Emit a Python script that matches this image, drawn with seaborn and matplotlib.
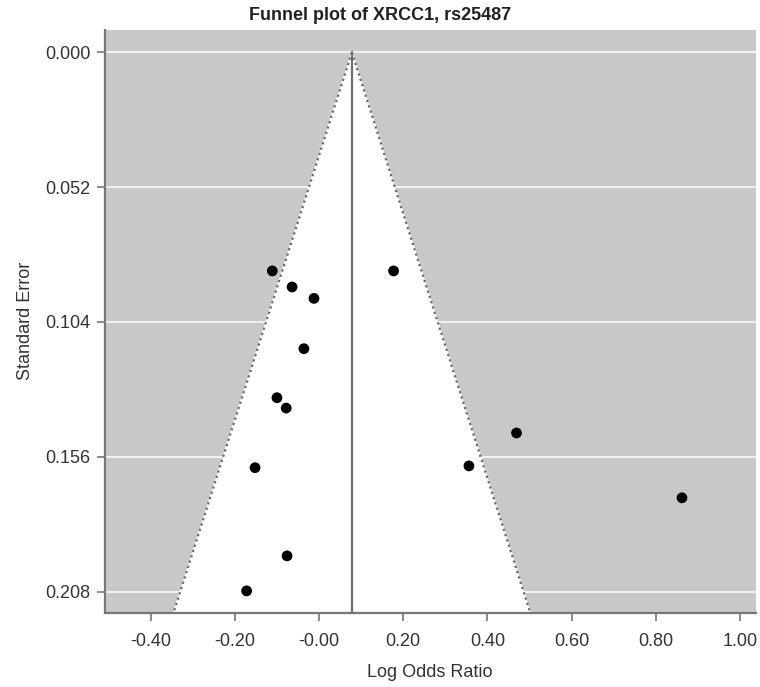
import numpy as np
import pandas as pd
import matplotlib
matplotlib.use("Agg")
import matplotlib.pyplot as plt
import seaborn as sns

# study estimates
log_or = [-0.111, -0.064, -0.012, -0.036, -0.100, -0.078, -0.152,
          0.177, 0.469, 0.356, 0.862, -0.076, -0.172]
std_err = [0.0843, 0.0905, 0.0949, 0.1143, 0.1332, 0.1372, 0.1602,
           0.0843, 0.1468, 0.1595, 0.1718, 0.1942, 0.2077]
pooled = 0.078
se_max = 0.2161

x_ticks = [-0.40, -0.20, 0.00, 0.20, 0.40, 0.60, 0.80, 1.00]
x_labels = ["-0.40", "-0.20", "-0.00", "0.20", "0.40", "0.60", "0.80", "1.00"]
y_ticks = [0.000, 0.052, 0.104, 0.156, 0.208]
y_labels = ["0.000", "0.052", "0.104", "0.156", "0.208"]

df = pd.DataFrame({"Log Odds Ratio": log_or, "Standard Error": std_err})

sns.set_style("ticks")
plt.rcParams["font.family"] = ["Liberation Sans", "DejaVu Sans"]

fig = plt.figure(figsize=(7.6, 6.87), dpi=100)
ax = fig.add_axes([0.1378, 0.1082, 0.9943 - 0.1378, 0.9563 - 0.1082])
ax.set_facecolor("#c8c8c8")

# 95% pseudo confidence funnel
left_x = pooled - 1.96 * se_max
right_x = pooled + 1.96 * se_max
ax.fill([pooled, left_x, right_x], [0, se_max, se_max], color="white", zorder=1)
ax.plot([pooled, left_x], [0, se_max], ls=(0, (1, 1.5)), color="#6a6a6a", lw=1.6, zorder=2)
ax.plot([pooled, right_x], [0, se_max], ls=(0, (1, 1.5)), color="#6a6a6a", lw=1.6, zorder=2)
ax.plot([pooled, pooled], [0, se_max], color="#6e6e6e", lw=1.6, zorder=2)

for yt in y_ticks:
    ax.axhline(yt, color="#f0f0f0", lw=1.5, zorder=0.5)

sns.scatterplot(data=df, x="Log Odds Ratio", y="Standard Error", ax=ax,
                color="black", s=60, edgecolor="none", zorder=3)

ax.set_xlim(-0.509, 1.037)
ax.set_ylim(se_max, -0.0086)
ax.set_xticks(x_ticks)
ax.set_xticklabels(x_labels)
ax.set_yticks(y_ticks)
ax.set_yticklabels(y_labels)
ax.tick_params(axis="both", length=6, width=1.2, color="#777777",
               labelsize=13, labelcolor="#333333", pad=4)
ax.tick_params(axis="x", pad=9)

for side in ["top", "right"]:
    ax.spines[side].set_visible(False)
for side in ["left", "bottom"]:
    ax.spines[side].set_color("#777777")
    ax.spines[side].set_linewidth(1.6)

ax.set_xlabel("Log Odds Ratio", fontsize=13, color="#333333", labelpad=10)
ax.set_ylabel("Standard Error", fontsize=13, color="#333333", labelpad=8)
fig.suptitle("Funnel plot of XRCC1, rs25487", x=0.5, y=1 - 16 / 687, va="center",
             fontsize=13, fontweight="bold", color="#222222")

fig.savefig("out.png", dpi=100)
